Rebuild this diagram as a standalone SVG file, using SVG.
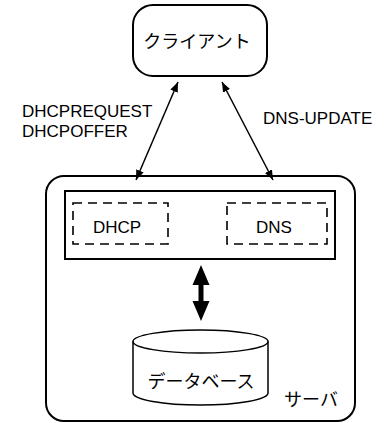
<svg xmlns="http://www.w3.org/2000/svg" width="388" height="423" viewBox="0 0 388 423">
<style>
.box{fill:none;stroke:#000;stroke-width:2}
.dash{fill:none;stroke:#000;stroke-width:1.6;stroke-dasharray:9 6}
.lat{font-family:"Liberation Sans",Arial,sans-serif;font-size:17px;fill:#000}
.jp{font-family:"Noto Sans CJK JP","Noto Sans",sans-serif;font-size:18px;fill:#000}
.line{stroke:#000;stroke-width:1.5;fill:none}
</style>
<defs>
<marker id="ah" viewBox="0 0 10 8" refX="10" refY="4" markerWidth="10" markerHeight="8" markerUnits="userSpaceOnUse" orient="auto-start-reverse">
<path d="M0,0 L10,4 L0,8 z" fill="#000"/>
</marker>
</defs>
<rect width="388" height="423" fill="#fff"/>
<g id="client">
<rect class="box" x="133" y="5" width="134" height="71" rx="20" ry="20"/>
<text class="jp" x="197" y="48" text-anchor="middle">クライアント</text>
</g>
<g id="server">
<rect class="box" x="46" y="176" width="309" height="245" rx="18" ry="18"/>
<text class="jp" x="311" y="406" text-anchor="middle">サーバ</text>
</g>
<g id="services">
<rect class="box" x="65" y="191" width="270" height="68"/>
</g>
<g id="dhcp">
<rect class="dash" x="73" y="203" width="95" height="41"/>
<text class="lat" x="117" y="233" text-anchor="middle">DHCP</text>
</g>
<g id="dns">
<rect class="dash" x="227" y="203" width="100" height="41"/>
<text class="lat" x="274" y="233" text-anchor="middle">DNS</text>
</g>
<g id="database">
<path class="line" d="M133,341.5 L133,393 A67.5,12 0 0 0 268,393 L268,341.5"/>
<ellipse class="line" cx="200.5" cy="341.5" rx="67.5" ry="11.5"/>
<text class="jp" x="201" y="388" text-anchor="middle">データベース</text>
</g>
<g id="connectors">
<line class="line" x1="178" y1="82" x2="136" y2="180" marker-start="url(#ah)" marker-end="url(#ah)"/>
<line class="line" x1="222" y1="82" x2="273" y2="180" marker-start="url(#ah)" marker-end="url(#ah)"/>
<polygon points="201,265 209.5,285 203.5,285 203.5,301 209.5,301 201,321 192.5,301 198.5,301 198.5,285 192.5,285" fill="#000"/>
</g>
<g id="labels">
<text class="lat" x="22" y="117">DHCPREQUEST</text>
<text class="lat" x="22" y="137">DHCPOFFER</text>
<text class="lat" x="263" y="124">DNS-UPDATE</text>
</g>
</svg>
